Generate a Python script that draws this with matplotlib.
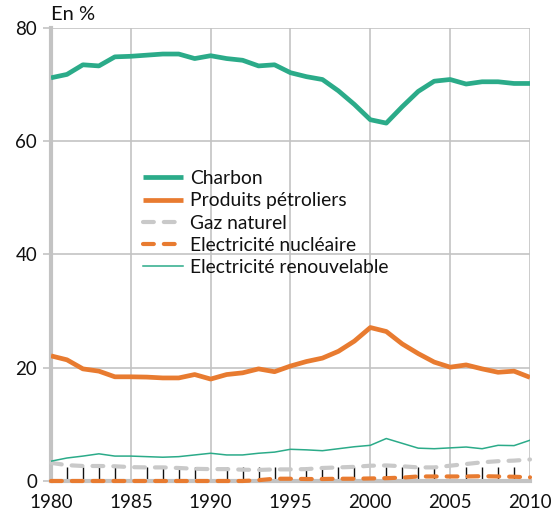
import matplotlib
matplotlib.use("Agg")
import matplotlib.pyplot as plt
from matplotlib.ticker import MultipleLocator

plt.rcParams['font.family'] = ['Lato', 'DejaVu Sans']

years = list(range(1980, 2011))

charbon = [71.2, 71.8, 73.5, 73.3, 74.9, 75.0, 75.2, 75.4, 75.4, 74.6,
           75.1, 74.6, 74.3, 73.3, 73.5, 72.1, 71.4, 70.9, 68.9, 66.5,
           63.8, 63.2, 66.1, 68.8, 70.6, 70.9, 70.1, 70.5, 70.5, 70.2, 70.2]

petrole = [22.1, 21.4, 19.8, 19.4, 18.4, 18.4, 18.35, 18.2, 18.2, 18.8,
           18.0, 18.8, 19.1, 19.8, 19.3, 20.3, 21.1, 21.7, 22.9, 24.7,
           27.1, 26.4, 24.2, 22.5, 21.0, 20.1, 20.5, 19.8, 19.2, 19.4, 18.3]

gaz = [3.2, 2.8, 2.65, 2.65, 2.6, 2.45, 2.4, 2.4, 2.3, 2.15,
       2.1, 2.1, 2.0, 1.95, 2.05, 2.05, 2.1, 2.3, 2.4, 2.5,
       2.7, 2.75, 2.6, 2.4, 2.4, 2.7, 3.0, 3.3, 3.5, 3.6, 3.8]

nucleaire = [0.0, 0.0, 0.0, 0.0, 0.0, 0.0, 0.0, 0.0, 0.0, 0.0,
             0.0, 0.0, 0.0, 0.15, 0.4, 0.4, 0.35, 0.35, 0.4, 0.4,
             0.45, 0.5, 0.6, 0.8, 0.8, 0.8, 0.8, 0.85, 0.8, 0.75, 0.65]

renouvelable = [3.5, 4.06, 4.4, 4.8, 4.4, 4.4, 4.3, 4.2, 4.3, 4.6,
                4.9, 4.6, 4.6, 4.9, 5.1, 5.6, 5.5, 5.35, 5.7, 6.05,
                6.3, 7.5, 6.65, 5.8, 5.7, 5.85, 6.0, 5.7, 6.3, 6.25, 7.2]

labels = ["Charbon", "Produits pétroliers", "Gaz naturel",
          "Electricité nucléaire", "Electricité renouvelable"]

teal = "#2bab89"
orange = "#e87b30"
grey = "#c9c9c9"
axis_grey = "#c3c3c3"

fig = plt.figure(figsize=(5.53, 5.20), dpi=100)
ax = fig.add_axes([0.0922, 0.075, 0.8662, 0.8712])

ax.plot(years, charbon, color=teal, lw=3.4, label=labels[0], zorder=4,
        solid_capstyle='butt')
ax.plot(years, petrole, color=orange, lw=3.4, label=labels[1], zorder=4,
        solid_capstyle='butt')
ax.plot(years, gaz, color=grey, lw=3.0, label=labels[2], zorder=4,
        dashes=(2.6, 2.4), dash_capstyle='round', clip_on=False)
ax.plot(years, nucleaire, color=orange, lw=3.0, label=labels[3], zorder=5,
        dashes=(2.6, 2.4), dash_capstyle='round', clip_on=False)
ax.plot(years, renouvelable, color=teal, lw=1.1, label=labels[4], zorder=4)

ax.set_xlim(1980, 2010)
ax.set_ylim(0, 80)
ax.xaxis.set_major_locator(MultipleLocator(5))
ax.xaxis.set_minor_locator(MultipleLocator(1))
ax.yaxis.set_major_locator(MultipleLocator(20))

ax.grid(True, which='major', color=axis_grey, lw=1.2, zorder=0)
ax.set_axisbelow(True)

for s in ("top", "right"):
    ax.spines[s].set_visible(False)
for s in ("left", "bottom"):
    ax.spines[s].set_color(axis_grey)
    ax.spines[s].set_linewidth(3.0)
    ax.spines[s].set_zorder(3)

ax.tick_params(axis='x', which='major', length=0, pad=9, labelsize=13.5,
               labelcolor='#111111')
ax.tick_params(axis='x', which='minor', direction='in', length=10,
               width=1.0, color='#111111', bottom=True)
ax.tick_params(axis='y', which='major', length=6, width=1.2,
               color=axis_grey, pad=4, labelsize=13.5, labelcolor='#111111')

ax.text(0.0, 1.012, "En %", transform=ax.transAxes, fontsize=14.5,
        ha='left', va='bottom', color='#111111')

leg = ax.legend(loc='upper left', bbox_to_anchor=(0.176, 0.703), frameon=False,
                fontsize=13.9, handlelength=2.07, handletextpad=0.36,
                labelspacing=0.27, borderaxespad=0)
for t in leg.get_texts():
    t.set_color('#111111')

fig.savefig("out.png", dpi=100)
